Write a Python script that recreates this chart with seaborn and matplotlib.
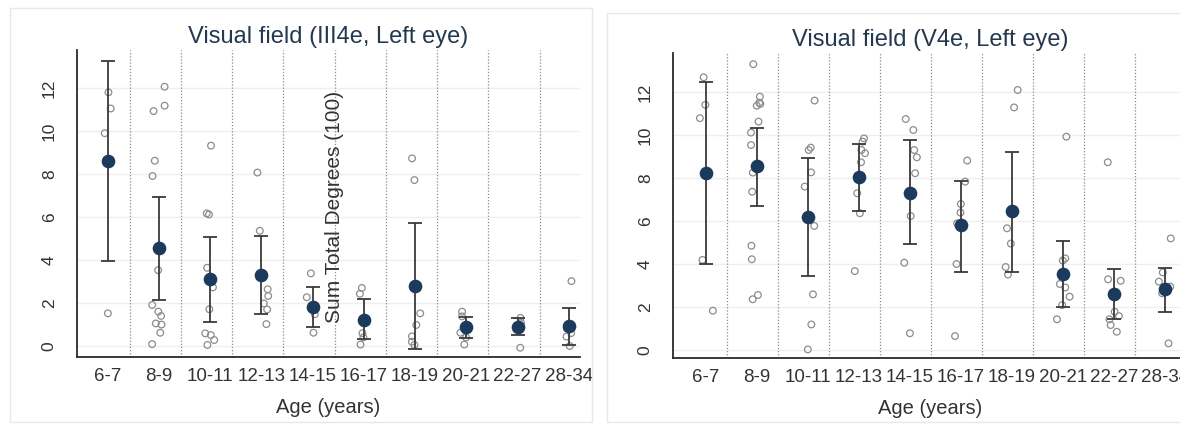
import numpy as np
import pandas as pd
import matplotlib
matplotlib.use("Agg")
import matplotlib.pyplot as plt
import seaborn as sns
from matplotlib.patches import Rectangle

ages = ["6-7", "8-9", "10-11", "12-13", "14-15", "16-17", "18-19", "20-21", "22-27", "28-34"]

# III4e, left eye (individual subjects)
left_points = [
    [11.8, 11.05, 9.9, 1.52],
    [12.06, 11.18, 10.93, 8.62, 7.91, 3.53, 1.91, 1.60, 1.40, 1.05, 1.0, 0.62, 0.09],
    [9.32, 6.17, 6.12, 3.64, 2.73, 1.71, 0.59, 0.51, 0.28, 0.05],
    [8.07, 5.36, 2.64, 2.33, 1.98, 1.7, 1.02],
    [3.38, 2.27, 1.48, 0.62],
    [2.7, 2.43, 0.6, 0.4, 0.07],
    [8.73, 7.72, 1.52, 0.98, 0.45, 0.2, 0.05],
    [1.6, 1.38, 0.95, 0.62, 0.4, 0.07],
    [1.31, 1.08, -0.08],
    [3.02, 0.81, 0.6, 0.44, 0.0],
]
left_mean = [8.62, 4.54, 3.13, 3.30, 1.80, 1.21, 2.78, 0.87, 0.90, 0.93]
left_hi = [13.27, 6.95, 5.05, 5.12, 2.76, 2.17, 5.71, 1.33, 1.29, 1.78]
left_lo = [3.97, 2.14, 1.10, 1.49, 0.87, 0.31, -0.13, 0.39, 0.51, 0.05]

# V4e, left eye
right_points = [
    [12.68, 11.40, 10.78, 4.19, 1.83],
    [13.29, 11.78, 11.50, 11.44, 11.36, 10.62, 10.11, 9.53, 8.25, 7.36, 4.85, 4.22, 2.56, 2.36],
    [11.60, 9.41, 9.30, 8.26, 7.60, 5.77, 2.59, 1.19, 0.03],
    [9.84, 9.69, 9.30, 9.15, 8.73, 7.29, 6.36, 3.67],
    [10.74, 10.23, 9.30, 8.96, 8.22, 6.23, 4.06, 0.78],
    [8.81, 7.83, 6.79, 6.39, 5.89, 4.00, 0.65],
    [12.09, 11.28, 5.66, 4.95, 3.86, 3.51],
    [9.92, 4.26, 4.16, 3.07, 2.91, 2.48, 2.09, 1.43],
    [8.73, 3.29, 3.22, 1.78, 1.58, 1.43, 1.16, 0.85],
    [5.19, 3.61, 3.18, 2.95, 2.64, 0.31],
]
right_mean = [8.25, 8.56, 6.20, 8.03, 7.32, 5.80, 6.47, 3.53, 2.60, 2.82]
right_hi = [12.45, 10.34, 8.95, 9.58, 9.77, 7.88, 9.22, 5.05, 3.75, 3.80]
right_lo = [4.00, 6.71, 3.46, 6.47, 4.93, 3.64, 3.64, 2.02, 1.43, 1.78]

sns.set_style("white")
plt.rcParams["font.family"] = ["Liberation Sans", "DejaVu Sans"]

NAVY = "#1b3a5c"
TXT = "#333333"

fig = plt.figure(figsize=(11.8, 4.26), dpi=100)
# faint panel frames
fig.patches.append(Rectangle((10 / 1180, 4 / 426), 582 / 1180, 414 / 426, transform=fig.transFigure,
                             fill=False, ec="#e8e8e8", lw=1))
fig.patches.append(Rectangle((607 / 1180, 4 / 426), 580 / 1180, 409 / 426, transform=fig.transFigure,
                             fill=False, ec="#e8e8e8", lw=1))

ax1 = fig.add_axes([77 / 1180, 69 / 426, 503 / 1180, 307 / 426])
ax2 = fig.add_axes([673 / 1180, 68 / 426, 514 / 1180, 305 / 426])

panels = [
    (ax1, left_points, left_mean, left_lo, left_hi, "Visual field (III4e, Left eye)", (-0.6, 9.22), (-0.51, 13.77), 0.43),
    (ax2, right_points, right_mean, right_lo, right_hi, "Visual field (V4e, Left eye)", (-0.65, 9.43), (-0.37, 13.81), 0.41),
]

np.random.seed(3)
for ax, pts, mean, lo, hi, title, xlim, ylim, sep in panels:
    long = pd.DataFrame([(a, v) for a, vals in zip(ages, pts) for v in vals], columns=["age", "value"])
    summ = pd.DataFrame({"age": ages, "mean": mean, "lo": lo, "hi": hi})

    for y in range(0, 13, 2):
        ax.axhline(y, color="#efefef", lw=1, zorder=0)
    for i in range(len(ages) - 1):
        ax.axvline(i + sep, color="#8a8a8a", lw=0.9, ls=(0, (1, 1.5)), zorder=1)

    sns.stripplot(data=long, x="age", y="value", order=ages, jitter=0.14, size=4.8,
                  color="#8c8c8c", linewidth=0.9, ax=ax, zorder=2)
    for coll in ax.collections:
        coll.set_facecolor("none")
        coll.set_edgecolor("#8c8c8c")

    xs = np.arange(len(ages))
    m = summ["mean"].to_numpy()
    ax.errorbar(xs, m, yerr=[m - summ["lo"].to_numpy(), summ["hi"].to_numpy() - m],
                fmt="none", ecolor="#3a3a3a", elinewidth=1.3, capsize=5, capthick=1.3, zorder=3)
    sns.pointplot(data=summ, x="age", y="mean", order=ages, errorbar=None, linestyle="none",
                  marker="o", markersize=7.8, color=NAVY, ax=ax, zorder=4)

    ax.set_xlim(*xlim)
    ax.set_ylim(*ylim)
    ax.set_yticks(range(0, 13, 2))
    ax.tick_params(axis="y", labelrotation=90, length=5.5, width=1, color=TXT, labelsize=12.5,
                   labelcolor=TXT, pad=9)
    ax.tick_params(axis="x", length=0, labelsize=13.5, labelcolor=TXT, pad=8)
    for lab in ax.get_yticklabels():
        lab.set_va("center")
    ax.set_xlabel("Age (years)", fontsize=14.5, color=TXT, labelpad=9)
    ax.set_ylabel("")
    ax.set_title(title, fontsize=17, color="#24384f", pad=5)
    sns.despine(ax=ax)
    for s in ["left", "bottom"]:
        ax.spines[s].set_color("#2a2a2a")
        ax.spines[s].set_linewidth(1.3)

# y label sitting inside the left panel as in the original
fig.text(335 / 1180, 1 - 207 / 426, "Sum Total Degrees (100)", rotation=90, ha="center", va="center",
         fontsize=15, color=TXT)

fig.savefig("out.png", dpi=100)
